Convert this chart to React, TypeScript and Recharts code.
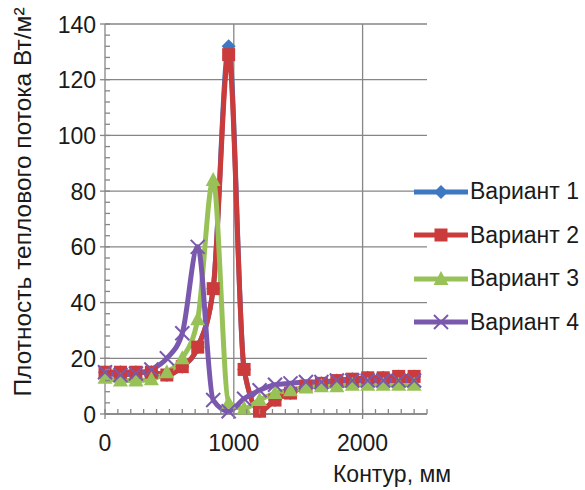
import React from "react";
import { LineChart, Line, XAxis, YAxis, CartesianGrid, Label } from "recharts";

// contour position, mm
const contour = [0, 120, 240, 360, 480, 600, 720, 840, 960, 1080, 1200, 1320, 1440, 1560, 1680, 1800, 1920, 2040, 2160, 2280, 2400];

// heat flux density, W/m2
const variant1 = [15, 15, 15, 15, 14, 17, 24, 45, 132, 16, 1, 5, 7.5, 10, 11, 12, 12.5, 13, 13, 13.5, 13.5];
const variant2 = [15, 15, 15, 15, 14, 17, 24, 45, 129, 16, 1, 5, 7.5, 10, 11, 12, 12.5, 13, 13, 13.5, 13.5];
const variant3 = [13, 12, 12, 12.5, 15, 20, 34, 84, 4, 2, 5, 7.5, 8.5, 9.5, 10, 10, 10.5, 10.5, 10.5, 10.5, 10.5];
const variant4 = [15, 14, 14.5, 16, 20, 29, 60, 5, 1, 5.5, 8.5, 10.5, 11, 11.5, 11.5, 12, 12, 12, 12, 12, 12];

const X_LABELS = [0, 1000, 2000];
const Y_LABELS = [0, 20, 40, 60, 80, 100, 120, 140];
const xTicks = Array.from({ length: 26 }, (_, i) => i * 100);
const yTicks = Array.from({ length: 36 }, (_, i) => i * 4);

const FONT = '"Liberation Sans", Arial, sans-serif';
const FS = 23;
const AXIS = "#868686";

const SERIES = [
  { key: "v1", name: "Вариант 1", color: "#3d78c2", shape: "diamond", values: variant1 },
  { key: "v2", name: "Вариант 2", color: "#cc3b3b", shape: "square", values: variant2 },
  { key: "v3", name: "Вариант 3", color: "#98c257", shape: "triangle", values: variant3 },
  { key: "v4", name: "Вариант 4", color: "#7a58ad", shape: "cross", values: variant4 },
];

const data = contour.map((x, i) => {
  const row: any = { x };
  SERIES.forEach((s) => (row[s.key] = s.values[i]));
  return row;
});

function Marker({ cx, cy, shape, color }: any) {
  if (cx == null || cy == null) return null;
  if (shape === "diamond")
    return <polygon points={`${cx},${cy - 7} ${cx + 7},${cy} ${cx},${cy + 7} ${cx - 7},${cy}`} fill={color} />;
  if (shape === "square") return <rect x={cx - 6.5} y={cy - 6.5} width={13} height={13} fill={color} />;
  if (shape === "triangle")
    return <polygon points={`${cx},${cy - 8} ${cx + 7.5},${cy + 6} ${cx - 7.5},${cy + 6}`} fill={color} />;
  return (
    <g stroke={color} strokeWidth={2}>
      <line x1={cx - 7} y1={cy - 7} x2={cx + 7} y2={cy + 7} />
      <line x1={cx - 7} y1={cy + 7} x2={cx + 7} y2={cy - 7} />
    </g>
  );
}

function XTick({ x, y, payload }: any) {
  const major = X_LABELS.includes(payload.value);
  return (
    <g>
      <line x1={x} x2={x} y1={y - 5} y2={major ? y + 5 : y} stroke={AXIS} strokeWidth={1.3} />
      {major && (
        <text x={x} y={y + 37} textAnchor="middle" fontSize={FS} fontFamily={FONT} fill="#1a1a1a">
          {payload.value}
        </text>
      )}
    </g>
  );
}

function YTick({ x, y, payload }: any) {
  const major = Y_LABELS.includes(payload.value);
  return (
    <g>
      <line x1={major ? x - 5 : x} x2={x + 5} y1={y} y2={y} stroke={AXIS} strokeWidth={1.3} />
      {major && (
        <text x={x - 9} y={y + 8.5} textAnchor="end" fontSize={FS} fontFamily={FONT} fill="#1a1a1a">
          {payload.value}
        </text>
      )}
    </g>
  );
}

function ChartLegend() {
  return (
    <div style={{ position: "absolute", left: 414, top: 170, width: 171, fontFamily: FONT, whiteSpace: "nowrap" }}>
      {SERIES.map((s) => (
        <div key={s.key} style={{ display: "flex", alignItems: "center", height: 43.5 }}>
          <svg width={54} height={20} style={{ flexShrink: 0 }}>
            <line x1={0} x2={54} y1={10} y2={10} stroke={s.color} strokeWidth={5} />
            <Marker cx={27} cy={10} shape={s.shape} color={s.color} />
          </svg>
          <span style={{ fontSize: FS, color: "#1a1a1a", marginLeft: 2, flexShrink: 0 }}>{s.name}</span>
        </div>
      ))}
    </div>
  );
}

export default function App() {
  return (
    <div style={{ width: 585, height: 490, position: "relative", background: "#fff" }}>
      <style>{"html,body{margin:0;padding:0;overflow:hidden}#root{overflow:visible}"}</style>
      <LineChart width={585} height={490} data={data} margin={{ top: 24, right: 158, bottom: 0, left: 0 }}>
        <CartesianGrid
          stroke={AXIS}
          strokeWidth={1.3}
          horizontalValues={Y_LABELS}
          verticalValues={[1000, 2000]}
        />
        <XAxis
          type="number"
          dataKey="x"
          domain={[0, 2500]}
          ticks={xTicks}
          interval={0}
          height={76}
          tickLine={false}
          tickSize={0}
          tickMargin={0}
          tick={<XTick />}
          axisLine={{ stroke: AXIS, strokeWidth: 1.3 }}
        >
          <Label
            content={(p: any) => (
              <text
                x={p.viewBox.x + p.viewBox.width / 2 + 126}
                y={p.viewBox.y + 68}
                textAnchor="middle"
                fontSize={FS}
                fontFamily={FONT}
                fill="#1a1a1a"
              >
                Контур, мм
              </text>
            )}
          />
        </XAxis>
        <YAxis
          type="number"
          domain={[0, 140]}
          ticks={yTicks}
          interval={0}
          width={105}
          tickLine={false}
          tickSize={0}
          tickMargin={0}
          tick={<YTick />}
          axisLine={{ stroke: AXIS, strokeWidth: 1.3 }}
        >
          <Label
            content={(p: any) => {
              const cx = 22;
              const cy = p.viewBox.y + p.viewBox.height / 2 - 17;
              return (
                <text
                  x={cx}
                  y={cy}
                  transform={`rotate(-90, ${cx}, ${cy})`}
                  textAnchor="middle"
                  dominantBaseline="central"
                  fontSize={24.5}
                  fontFamily={FONT}
                  fill="#1a1a1a"
                >
                  Плотность теплового потока Вт/м²
                </text>
              );
            }}
          />
        </YAxis>
        {SERIES.map((s) => (
          <Line
            key={s.key}
            dataKey={s.key}
            name={s.name}
            type="monotone"
            stroke={s.color}
            strokeWidth={5}
            isAnimationActive={false}
            dot={(p: any) => <Marker key={`${s.key}-${p.index}`} cx={p.cx} cy={p.cy} shape={s.shape} color={s.color} />}
            activeDot={false}
          />
        ))}
      </LineChart>
      <ChartLegend />
    </div>
  );
}
